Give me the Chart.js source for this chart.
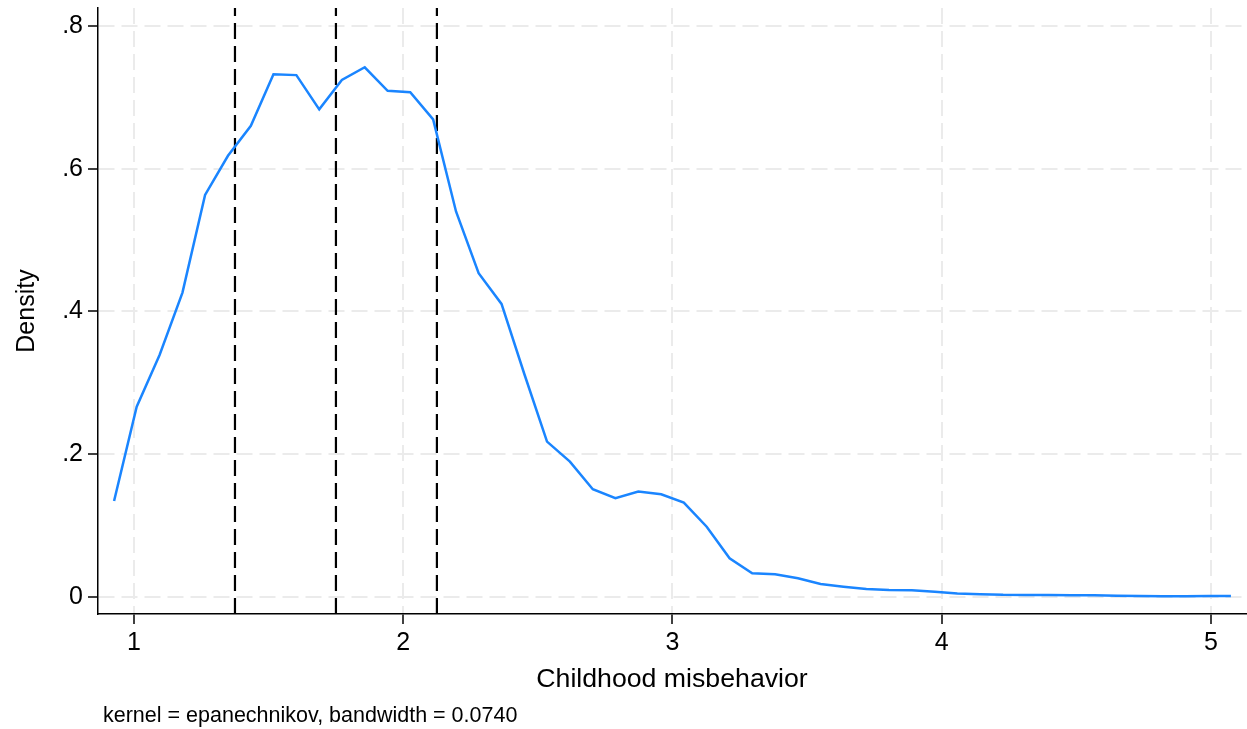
<!DOCTYPE html>
<html>
<head>
<meta charset="utf-8">
<title>Kernel density - Childhood misbehavior</title>
<script src="https://cdn.jsdelivr.net/npm/chart.js@4.4.1/dist/chart.umd.min.js"></script>
<style>
  html, body { margin: 0; padding: 0; background: #fff; }
  #wrap { width: 1247px; height: 729px; }
</style>
</head>
<body>
<div id="wrap"><canvas id="kdens" width="1247" height="729"></canvas></div>
<script>
// evaluation points of the kernel density (50 points)
const gridX = [
    0.926, 1.010, 1.095, 1.180, 1.264, 1.349, 1.434, 1.518, 1.603, 1.688,
    1.772, 1.857, 1.942, 2.026, 2.111, 2.196, 2.280, 2.365, 2.450, 2.534,
    2.619, 2.704, 2.788, 2.873, 2.958, 3.042, 3.127, 3.212, 3.296, 3.381,
    3.466, 3.550, 3.635, 3.720, 3.804, 3.889, 3.974, 4.058, 4.143, 4.228,
    4.312, 4.397, 4.482, 4.566, 4.651, 4.736, 4.820, 4.905, 4.990, 5.074
];
const density = [
    0.1345, 0.2666, 0.3390, 0.4264, 0.5632, 0.6180, 0.6600, 0.7323, 0.7310, 0.6830,
    0.7243, 0.7420, 0.7090, 0.7070, 0.6690, 0.5400, 0.4535, 0.4105, 0.3120, 0.2176,
    0.1896, 0.1509, 0.1383, 0.1476, 0.1439, 0.1321, 0.0985, 0.0542, 0.0332, 0.0318,
    0.0262, 0.0182, 0.0145, 0.0112, 0.0098, 0.0094, 0.0075, 0.0050, 0.0040, 0.0030,
    0.0028, 0.0028, 0.0026, 0.0023, 0.0018, 0.0013, 0.0009, 0.0012, 0.0014, 0.0013
];
// dashed reference lines (quartiles)
const refLines = [1.375, 1.75, 2.125];

const xTicks = [1, 2, 3, 4, 5];
const yTicks = [0, 0.2, 0.4, 0.6, 0.8];
const yTickLabels = ['0', '.2', '.4', '.6', '.8'];

const xMin = 0.8663, xMax = 5.130;
const yMin = -0.0238, yMax = 0.825;

const FONT = '"Liberation Sans", Arial, Helvetica, sans-serif';
const GRID = '#ebebeb';

Chart.defaults.font.family = FONT;
Chart.defaults.color = '#000';

// footnote under the x axis title
const footnotePlugin = {
    id: 'footnote',
    afterDraw(chart) {
        const ctx = chart.ctx;
        ctx.save();
        ctx.font = '21.5px ' + FONT;
        ctx.fillStyle = '#000';
        ctx.textAlign = 'left';
        ctx.textBaseline = 'middle';
        ctx.fillText('kernel = epanechnikov, bandwidth = 0.0740', 103, 716);
        ctx.restore();
    }
};

const datasets = [{
    label: 'density',
    data: gridX.map((x, i) => ({ x: x, y: density[i] })),
    borderColor: '#1a85ff',
    borderWidth: 2.5,
    pointRadius: 0,
    showLine: true,
    tension: 0
}];

refLines.forEach(v => {
    datasets.push({
        label: 'ref',
        data: [{ x: v, y: yMin }, { x: v, y: yMax }],
        borderColor: '#000',
        borderWidth: 2.2,
        borderDash: [16, 7],
        pointRadius: 0,
        showLine: true
    });
});

// no extra room for half-labels at the axis ends
function noEndPadding(scale) {
    scale.paddingTop = 0;
    scale.paddingBottom = 0;
    scale.paddingLeft = 0;
    scale.paddingRight = 0;
}

new Chart(document.getElementById('kdens'), {
    type: 'scatter',
    data: { datasets: datasets },
    plugins: [footnotePlugin],
    options: {
        responsive: false,
        animation: false,
        layout: { padding: { top: 8, right: 1, left: 0, bottom: 29 } },
        plugins: {
            legend: { display: false },
            tooltip: { enabled: false }
        },
        scales: {
            x: {
                type: 'linear',
                min: xMin,
                max: xMax,
                afterBuildTicks: scale => { scale.ticks = xTicks.map(v => ({ value: v })); },
                afterFit: scale => { scale.height = 86; noEndPadding(scale); },
                ticks: {
                    font: { size: 25 },
                    padding: 4,
                    maxRotation: 0,
                    callback: v => String(v)
                },
                grid: {
                    color: GRID,
                    lineWidth: 2,
                    tickLength: 10,
                    tickColor: '#000',
                    tickWidth: 1.5,
                    tickBorderDash: []
                },
                border: { display: true, color: '#000', width: 1.5, dash: [16, 7] },
                title: {
                    display: true,
                    text: 'Childhood misbehavior',
                    font: { size: 26.7 },
                    padding: { top: 0, bottom: 4 }
                }
            },
            y: {
                type: 'linear',
                min: yMin,
                max: yMax,
                afterBuildTicks: scale => { scale.ticks = yTicks.map(v => ({ value: v })); },
                afterFit: scale => { scale.width = 98; noEndPadding(scale); },
                ticks: {
                    font: { size: 25 },
                    padding: 5,
                    callback: v => yTickLabels[yTicks.indexOf(v)]
                },
                grid: {
                    color: GRID,
                    lineWidth: 2,
                    tickLength: 10,
                    tickColor: '#000',
                    tickWidth: 1.5,
                    tickBorderDash: []
                },
                border: { display: true, color: '#000', width: 1.5, dash: [16, 7] },
                title: {
                    display: true,
                    text: 'Density',
                    font: { size: 25 },
                    padding: { top: 12, bottom: 0 }
                }
            }
        }
    }
});
</script>
</body>
</html>
